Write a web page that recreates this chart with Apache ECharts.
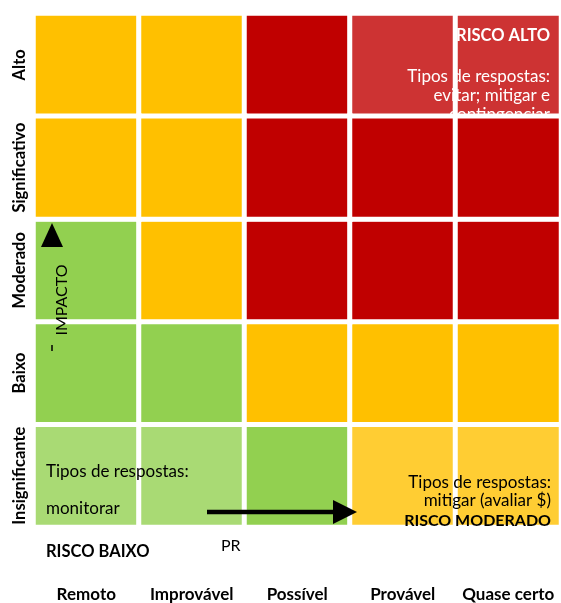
<!DOCTYPE html>
<html>
<head>
<meta charset="utf-8">
<title>Matriz de risco</title>
<script src="https://cdn.jsdelivr.net/npm/echarts@6/dist/echarts.min.js"></script>
<style>
  html, body { margin: 0; padding: 0; background: #fff; }
  #chart { width: 561px; height: 603px; }
</style>
</head>
<body>
<div id="chart"></div>
<script>
  // eixos
  var probabilidade = ['Remoto', 'Improvável', 'Possível', 'Provável', 'Quase certo'];
  var impacto = ['Insignificante', 'Baixo', 'Moderado', 'Significativo', 'Alto'];

  // nivel de cada celula (coluna = probabilidade)
  // 0 baixo (caixa), 1 baixo, 2 moderado, 3 moderado (caixa), 4 alto, 5 alto (caixa)
  var nivelInsignificante = [0, 0, 1, 3, 3];
  var nivelBaixo          = [1, 1, 2, 2, 2];
  var nivelModerado       = [1, 2, 4, 4, 4];
  var nivelSignificativo  = [2, 2, 4, 4, 4];
  var nivelAlto           = [2, 2, 4, 5, 5];
  var niveis = [nivelInsignificante, nivelBaixo, nivelModerado, nivelSignificativo, nivelAlto];

  var cores = ['#A9DA74', '#92D050', '#FFC000', '#FFCD33', '#C00000', '#CD3333'];

  var fonte = 'Lato, "Open Sans", sans-serif';

  // linha "Alto" fica numa serie por baixo, as outras por cima (corta o texto)
  var dadosAlto = [];
  var dadosResto = [];
  niveis.forEach(function (linha, y) {
    linha.forEach(function (v, x) {
      if (y == impacto.length - 1) dadosAlto.push([x, y, v]);
      else dadosResto.push([x, y, v]);
    });
  });

  var pecas = cores.map(function (c, i) { return { value: i, color: c }; });

  var myChart = echarts.init(document.getElementById('chart'));

  var option = {
    animation: false,
    grid: { left: 33.5, right: -7.5, top: 13.5, bottom: 72 },
    xAxis: {
      type: 'category',
      data: probabilidade,
      axisLine: { show: false },
      axisTick: { show: false },
      splitLine: { show: false },
      axisLabel: {
        interval: 0,
        hideOverlap: false,
        margin: 59,
        color: '#000',
        fontFamily: fonte,
        fontWeight: 'bold',
        fontSize: 17
      }
    },
    yAxis: {
      type: 'category',
      data: impacto,
      axisLine: { show: false },
      axisTick: { show: false },
      splitLine: { show: false },
      axisLabel: {
        interval: 0,
        hideOverlap: false,
        rotate: 90,
        margin: 5,
        color: '#000',
        fontFamily: fonte,
        fontWeight: 'bold',
        fontSize: 16.5
      }
    },
    visualMap: {
      type: 'piecewise',
      show: false,
      dimension: 2,
      pieces: pecas
    },
    series: [
      {
        name: 'alto',
        type: 'heatmap',
        z: 1,
        data: dadosAlto,
        itemStyle: { borderColor: '#fff', borderWidth: 5 },
        emphasis: { disabled: true }
      },
      {
        name: 'resto',
        type: 'heatmap',
        z: 3,
        data: dadosResto,
        itemStyle: { borderColor: '#fff', borderWidth: 5 },
        emphasis: { disabled: true }
      }
    ],
    graphic: [
      // risco alto (fica entre as duas series)
      {
        type: 'text', z: 2,
        style: { text: 'RISCO ALTO', x: 550, y: 36, align: 'right', verticalAlign: 'middle',
                 fill: '#fff', fontFamily: fonte, fontWeight: 'bold', fontSize: 16.5 }
      },
      {
        type: 'text', z: 2,
        style: { text: 'Tipos de respostas:\nevitar; mitigar e\ncontingenciar', x: 550, y: 67,
                 align: 'right', verticalAlign: 'top', lineHeight: 19,
                 fill: '#fff', fontFamily: fonte, fontSize: 17 }
      },
      // risco moderado
      {
        type: 'text', z: 10,
        style: { text: 'Tipos de respostas:\nmitigar (avaliar $)', x: 551, y: 474,
                 align: 'right', verticalAlign: 'top', lineHeight: 18,
                 fill: '#000', fontFamily: fonte, fontSize: 17 }
      },
      {
        type: 'text', z: 10,
        style: { text: 'RISCO MODERADO', x: 551, y: 521, align: 'right', verticalAlign: 'middle',
                 fill: '#000', fontFamily: fonte, fontWeight: 'bold', fontSize: 16 }
      },
      // risco baixo
      {
        type: 'text', z: 10,
        style: { text: 'Tipos de respostas:', x: 46, y: 472, verticalAlign: 'middle',
                 fill: '#000', fontFamily: fonte, fontSize: 17 }
      },
      {
        type: 'text', z: 10,
        style: { text: 'monitorar', x: 46, y: 509, verticalAlign: 'middle',
                 fill: '#000', fontFamily: fonte, fontSize: 17 }
      },
      {
        type: 'text', z: 10,
        style: { text: 'RISCO BAIXO', x: 46, y: 552, verticalAlign: 'middle',
                 fill: '#000', fontFamily: fonte, fontWeight: 'bold', fontSize: 16.5 }
      },
      {
        type: 'text', z: 10,
        style: { text: 'PR', x: 221, y: 546, verticalAlign: 'middle',
                 fill: '#000', fontFamily: fonte, fontSize: 16 }
      },
      // seta do impacto
      {
        type: 'text', z: 10, x: 62, y: 300, rotation: Math.PI / 2,
        style: { text: 'IMPACTO', align: 'center', verticalAlign: 'middle',
                 fill: '#000', fontFamily: fonte, fontSize: 16 }
      },
      {
        type: 'polygon', z: 10,
        shape: { points: [[52, 223], [63, 247], [41, 247]] },
        style: { fill: '#000' }
      },
      {
        type: 'line', z: 10,
        shape: { x1: 52, y1: 345, x2: 52, y2: 351 },
        style: { stroke: '#000', lineWidth: 1.5 }
      },
      // seta da probabilidade
      {
        type: 'line', z: 10,
        shape: { x1: 207, y1: 512, x2: 336, y2: 512 },
        style: { stroke: '#000', lineWidth: 4.5 }
      },
      {
        type: 'polygon', z: 10,
        shape: { points: [[333, 500], [357, 512], [333, 524]] },
        style: { fill: '#000' }
      }
    ]
  };

  myChart.setOption(option);
</script>
</body>
</html>
